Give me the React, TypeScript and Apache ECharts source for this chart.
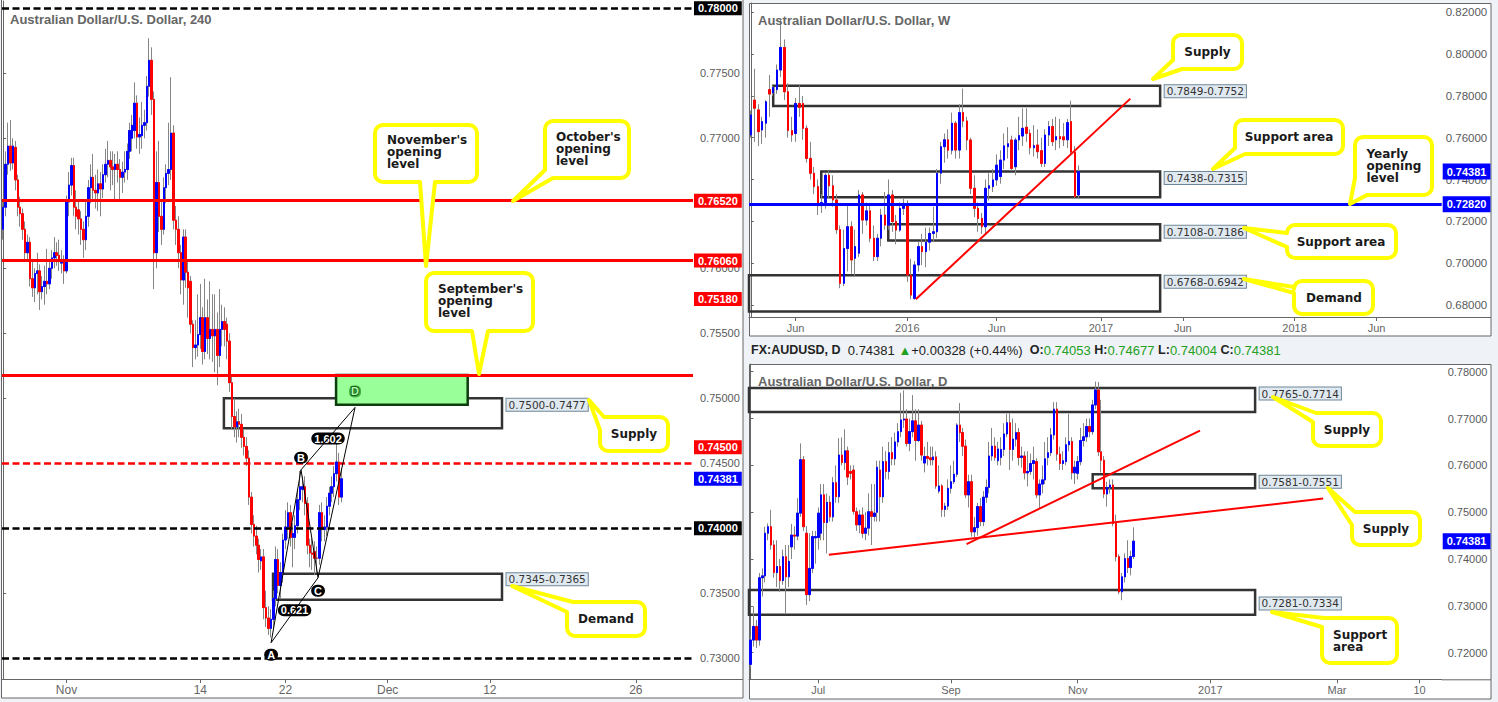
import React, { useEffect, useRef } from 'react';
import * as echarts from 'echarts';

// ================= DATA =================
// 240-minute candles: [open, close, low, high]
const h4Candles = [
[0.7630,0.7647,0.7622,0.7652],[0.7647,0.7680,0.7640,0.7690],[0.7680,0.7694,0.7672,0.7712],[0.7694,0.7681,0.7675,0.7714],
[0.7681,0.7694,0.7676,0.7700],[0.7693,0.7668,0.7660,0.7698],[0.7668,0.7647,0.7640,0.7672],[0.7647,0.7642,0.7632,0.7655],
[0.7642,0.7630,0.7622,0.7646],[0.7630,0.7612,0.7605,0.7636],[0.7612,0.7620,0.7606,0.7626],[0.7620,0.7592,0.7586,0.7624],
[0.7592,0.7585,0.7578,0.7606],[0.7585,0.7596,0.7574,0.7600],[0.7596,0.7598,0.7580,0.7612],[0.7598,0.7582,0.7568,0.7603],
[0.7582,0.7586,0.7576,0.7594],[0.7586,0.7590,0.7572,0.7602],[0.7590,0.7588,0.7580,0.7615],[0.7588,0.7600,0.7584,0.7605],
[0.7600,0.7608,0.7592,0.7614],[0.7608,0.7612,0.7600,0.7624],[0.7612,0.7610,0.7602,0.7620],[0.7610,0.7606,0.7598,0.7622],
[0.7604,0.7606,0.7596,0.7614],[0.7606,0.7598,0.7588,0.7610],[0.7598,0.7651,0.7596,0.7656],[0.7651,0.7664,0.7640,0.7674],
[0.7664,0.7679,0.7656,0.7685],[0.7679,0.7647,0.7640,0.7685],[0.7647,0.7640,0.7630,0.7660],[0.7645,0.7638,0.7626,0.7652],
[0.7638,0.7630,0.7618,0.7644],[0.7630,0.7622,0.7608,0.7636],[0.7622,0.7640,0.7614,0.7652],[0.7640,0.7662,0.7632,0.7668],
[0.7662,0.7670,0.7650,0.7680],[0.7670,0.7660,0.7652,0.7688],[0.7660,0.7658,0.7646,0.7672],[0.7658,0.7665,0.7644,0.7676],
[0.7665,0.7661,0.7640,0.7674],[0.7661,0.7672,0.7654,0.7680],[0.7672,0.7680,0.7666,0.7692],[0.7680,0.7683,0.7670,0.7698],
[0.7683,0.7678,0.7660,0.7690],[0.7678,0.7676,0.7664,0.7690],[0.7676,0.7680,0.7652,0.7688],[0.7680,0.7676,0.7666,0.7690],
[0.7676,0.7670,0.7652,0.7684],[0.7670,0.7674,0.7658,0.7682],[0.7674,0.7676,0.7666,0.7690],[0.7676,0.7690,0.7668,0.7696],
[0.7690,0.7706,0.7684,0.7712],[0.7700,0.7710,0.7690,0.7718],[0.7706,0.7727,0.7700,0.7743],[0.7727,0.7701,0.7692,0.7733],
[0.7701,0.7703,0.7688,0.7716],[0.7702,0.7710,0.7692,0.7728],[0.7710,0.7712,0.7700,0.7722],[0.7712,0.7740,0.7706,0.7748],
[0.7740,0.7760,0.7732,0.7777],[0.7760,0.7730,0.7718,0.7770],[0.7730,0.7612,0.7584,0.7736],[0.7612,0.7666,0.7600,0.7690],
[0.7666,0.7640,0.7628,0.7698],[0.7640,0.7630,0.7618,0.7652],[0.7630,0.7662,0.7626,0.7670],[0.7662,0.7673,0.7650,0.7680],
[0.7673,0.7676,0.7664,0.7712],[0.7676,0.7704,0.7668,0.7747],[0.7704,0.7637,0.7630,0.7710],[0.7637,0.7630,0.7618,0.7648],
[0.7630,0.7612,0.7600,0.7640],[0.7612,0.7591,0.7580,0.7618],[0.7591,0.7624,0.7572,0.7630],[0.7624,0.7597,0.7585,0.7630],
[0.7597,0.7585,0.7562,0.7606],[0.7590,0.7557,0.7550,0.7594],[0.7557,0.7539,0.7524,0.7560],[0.7539,0.7541,0.7530,0.7560],
[0.7541,0.7549,0.7532,0.7580],[0.7549,0.7562,0.7538,0.7588],[0.7562,0.7536,0.7526,0.7570],[0.7536,0.7562,0.7530,0.7592],
[0.7562,0.7546,0.7534,0.7576],[0.7546,0.7553,0.7530,0.7590],[0.7553,0.7548,0.7528,0.7580],[0.7548,0.7553,0.7520,0.7580],
[0.7553,0.7533,0.7510,0.7566],[0.7533,0.7553,0.7524,0.7584],[0.7553,0.7559,0.7540,0.7572],[0.7559,0.7553,0.7540,0.7570],
[0.7557,0.7544,0.7530,0.7562],[0.7544,0.7512,0.7505,0.7550],[0.7512,0.7486,0.7476,0.7518],[0.7486,0.7478,0.7470,0.7500],
[0.7478,0.7482,0.7466,0.7490],[0.7482,0.7480,0.7470,0.7492],[0.7480,0.7470,0.7462,0.7488],[0.7470,0.7463,0.7456,0.7476],
[0.7463,0.7454,0.7448,0.7470],[0.7454,0.7424,0.7418,0.7460],[0.7424,0.7403,0.7396,0.7428],[0.7403,0.7394,0.7386,0.7410],
[0.7394,0.7387,0.7380,0.7402],[0.7387,0.7376,0.7366,0.7392],[0.7375,0.7378,0.7368,0.7384],[0.7378,0.7339,0.7330,0.7384],
[0.7339,0.7331,0.7324,0.7352],[0.7331,0.7323,0.7318,0.7340],[0.7323,0.7330,0.7316,0.7338],[0.7330,0.7346,0.7322,0.7352],
[0.7346,0.7376,0.7340,0.7386],[0.7376,0.7356,0.7350,0.7384],[0.7356,0.7366,0.7346,0.7374],[0.7366,0.7391,0.7358,0.7396],
[0.7391,0.7401,0.7384,0.7414],[0.7401,0.7412,0.7392,0.7420],[0.7412,0.7393,0.7386,0.7418],[0.7393,0.7396,0.7370,0.7404],
[0.7393,0.7402,0.7384,0.7410],[0.7402,0.7422,0.7396,0.7430],[0.7422,0.7432,0.7414,0.7444],[0.7430,0.7432,0.7420,0.7440],
[0.7432,0.7419,0.7410,0.7440],[0.7419,0.7387,0.7380,0.7424],[0.7387,0.7381,0.7370,0.7392],[0.7381,0.7380,0.7368,0.7392],
[0.7382,0.7377,0.7364,0.7390],[0.7377,0.7377,0.7366,0.7386],[0.7377,0.7412,0.7372,0.7418],[0.7412,0.7399,0.7390,0.7420],
[0.7399,0.7401,0.7390,0.7410],[0.7401,0.7417,0.7394,0.7424],[0.7417,0.7427,0.7410,0.7432],[0.7427,0.7432,0.7420,0.7440],
[0.7432,0.7442,0.7424,0.7448],[0.7442,0.7451,0.7436,0.7465],[0.7451,0.7424,0.7418,0.7458],[0.7424,0.74381,0.7420,0.7446],
];
const h4CategoryCount = 284;
const h4TickIndex = [26, 81, 116, 158, 200, 260];
const h4TickLabels = ['Nov', '14', '22', 'Dec', '12', '26'];
const h4YTicks = [0.73, 0.735, 0.74, 0.745, 0.75, 0.755, 0.76, 0.765, 0.77, 0.775, 0.78];
const h4YRange = [0.728408, 0.780562];
const h4Levels = [0.78, 0.7652, 0.7606, 0.7518, 0.745, 0.74, 0.73];
const h4LevelKinds = ['blackDash', 'red', 'red', 'red', 'redDash', 'blackDash', 'blackDash'];
const h4LevelTags = ['0.78000', '0.76520', '0.76060', '0.75180', '0.74500', '0.74000', ''];
const lastPrice = 0.74381;
// zones: [fromIndex, toIndex, priceA, priceB]
const h4Zones = [[90.7, 205, 0.75, 0.7477], [110.9, 205, 0.7365, 0.7345]];
const h4ZoneLabels = ['0.7500-0.7477', '0.7345-0.7365'];
const h4PrzZone = [136.8, 190.9, 0.7518, 0.7495];
const abcdNames = ['A', 'B', 'C', 'D'];
const abcdPoints = [[110.1, 0.7312], [122.4, 0.7445], [129.4, 0.7362], [144.6, 0.7493]];
const abcdRatios = ['0.621', '1.602'];

// Weekly candles: [open, close, low, high]
const wCandles = [
[0.7613,0.7709,0.7600,0.7730],[0.7780,0.7741,0.7580,0.7930],[0.7733,0.7629,0.7560,0.7760],[0.7637,0.7677,0.7570,0.7700],
[0.7669,0.7772,0.7600,0.7780],[0.7830,0.7809,0.7700,0.7900],[0.7815,0.7840,0.7800,0.7850],[0.7830,0.7924,0.7810,0.7950],
[0.7924,0.8032,0.7890,0.8163],[0.8032,0.7820,0.7780,0.8070],[0.7820,0.7634,0.7600,0.7860],[0.7634,0.7613,0.7580,0.7700],
[0.7620,0.7764,0.7580,0.7790],[0.7764,0.7745,0.7700,0.7850],[0.7764,0.7645,0.7590,0.7800],[0.7645,0.7501,0.7480,0.7660],
[0.7501,0.7430,0.7400,0.7580],[0.7430,0.7366,0.7330,0.7460],[0.7366,0.7275,0.7230,0.7400],[0.7275,0.7290,0.7240,0.7330],
[0.7290,0.7420,0.7260,0.7430],[0.7420,0.7370,0.7310,0.7440],[0.7370,0.7302,0.7270,0.7420],[0.7302,0.7160,0.7140,0.7330],
[0.7160,0.6903,0.6880,0.7180],[0.6903,0.7070,0.6890,0.7160],[0.7070,0.7174,0.6960,0.7280],[0.7174,0.7015,0.6950,0.7200],
[0.7023,0.7079,0.6940,0.7160],[0.7047,0.7326,0.7030,0.7350],[0.7326,0.7206,0.7140,0.7340],[0.7206,0.7250,0.7180,0.7290],
[0.7250,0.7119,0.7100,0.7280],[0.7119,0.7031,0.7010,0.7180],[0.7031,0.7119,0.7010,0.7140],[0.7119,0.7230,0.7080,0.7260],
[0.7230,0.7182,0.7160,0.7340],[0.7182,0.7326,0.7160,0.7400],[0.7326,0.7199,0.7150,0.7350],[0.7199,0.7158,0.7090,0.7230],
[0.7158,0.7262,0.7150,0.7290],[0.7262,0.7280,0.7230,0.7310],[0.7280,0.6943,0.6910,0.7300],[0.6943,0.6847,0.6827,0.7020],
[0.6831,0.6991,0.6825,0.7010],[0.6991,0.7079,0.6960,0.7100],[0.7079,0.7055,0.6990,0.7140],[0.7055,0.7100,0.6980,0.7170],
[0.7100,0.7142,0.7060,0.7170],[0.7142,0.7150,0.7100,0.7270],[0.7150,0.7430,0.7120,0.7450],[0.7430,0.7557,0.7380,0.7580],
[0.7557,0.7590,0.7480,0.7620],[0.7590,0.7540,0.7500,0.7640],[0.7540,0.7669,0.7520,0.7720],[0.7669,0.7541,0.7500,0.7680],
[0.7541,0.7720,0.7500,0.7760],[0.7720,0.7680,0.7650,0.7835],[0.7680,0.7589,0.7540,0.7700],[0.7589,0.7358,0.7330,0.7600],
[0.7358,0.7262,0.7220,0.7420],[0.7262,0.7214,0.7150,0.7290],[0.7214,0.7174,0.7140,0.7240],[0.7174,0.7358,0.7140,0.7400],
[0.7358,0.7370,0.7300,0.7430],[0.7366,0.7398,0.7340,0.7450],[0.7398,0.7469,0.7370,0.7520],[0.7414,0.7493,0.7380,0.7540],
[0.7493,0.7561,0.7450,0.7620],[0.7557,0.7571,0.7500,0.7650],[0.7589,0.7453,0.7440,0.7610],[0.7461,0.7589,0.7420,0.7600],
[0.7589,0.7610,0.7540,0.7700],[0.7608,0.7645,0.7560,0.7740],[0.7650,0.7621,0.7580,0.7740],[0.7621,0.7552,0.7520,0.7640],
[0.7552,0.7562,0.7510,0.7660],[0.7565,0.7533,0.7500,0.7640],[0.7538,0.7477,0.7460,0.7600],[0.7477,0.7613,0.7460,0.7640],
[0.7613,0.7653,0.7560,0.7680],[0.7653,0.7581,0.7560,0.7690],[0.7590,0.7605,0.7540,0.7700],[0.7605,0.7595,0.7550,0.7690],
[0.7604,0.7590,0.7560,0.7670],[0.7590,0.7672,0.7550,0.7690],[0.7677,0.7531,0.7520,0.7777],[0.7531,0.7318,0.7310,0.7560],
[0.7326,0.74381,0.7310,0.7468],
];
const wCategoryCount = 186;
const wTickIndex = [12, 42, 66, 94, 116, 146, 168];
const wTickLabels = ['Jun', '2016', 'Jun', '2017', 'Jun', '2018', 'Jun'];
const wYTicks = [0.68, 0.70, 0.72, 0.74, 0.76, 0.78, 0.80, 0.82];
const wYRange = [0.674211, 0.82445];
const wYearlyOpen = 0.7282;
const wZones = [[6.0, 109.9, 0.7849, 0.7752], [18.9, 109.9, 0.7438, 0.7315], [36.9, 109.9, 0.7186, 0.7108], [-0.5, 109.9, 0.6942, 0.6768]];
const wZoneLabels = ['0.7849-0.7752', '0.7438-0.7315', '0.7108-0.7186', '0.6768-0.6942'];
const wTrend = [[44.3, 0.6827], [101.9, 0.7787]];

// Daily candles: [open, close, low, high]
const dCandles = [
[0.7175,0.7227,0.7170,0.7235],[0.7227,0.7256,0.7213,0.7298],[0.7256,0.7227,0.7210,0.7270],[0.7227,0.7360,0.7215,0.7370],
[0.7360,0.7364,0.7320,0.7380],[0.7364,0.7455,0.7350,0.7469],[0.7455,0.7469,0.7440,0.7476],[0.7469,0.7430,0.7420,0.7505],
[0.7430,0.7371,0.7360,0.7440],[0.7371,0.7384,0.7340,0.7440],[0.7384,0.7354,0.7330,0.7400],[0.7354,0.7405,0.7345,0.7420],
[0.7405,0.7362,0.7284,0.7430],[0.7362,0.7395,0.7340,0.7430],[0.7426,0.7451,0.7400,0.7475],[0.7451,0.7449,0.7420,0.7470],
[0.7449,0.7498,0.7440,0.7530],[0.7498,0.7612,0.7490,0.7647],[0.7612,0.7469,0.7460,0.7620],[0.7455,0.7324,0.7302,0.7470],
[0.7324,0.7380,0.7310,0.7455],[0.7380,0.7448,0.7370,0.7460],[0.7445,0.7448,0.7390,0.7460],[0.7446,0.7498,0.7420,0.7510],
[0.7455,0.7537,0.7440,0.7560],[0.7537,0.7478,0.7440,0.7560],[0.7478,0.7521,0.7412,0.7540],[0.7521,0.7490,0.7480,0.7535],
[0.7490,0.7563,0.7480,0.7575],[0.7563,0.7533,0.7520,0.7600],[0.7533,0.7622,0.7520,0.7658],[0.7622,0.7606,0.7600,0.7660],
[0.7606,0.7631,0.7590,0.7677],[0.7631,0.7575,0.7558,0.7640],[0.7587,0.7583,0.7570,0.7600],[0.7590,0.7502,0.7495,0.7600],
[0.7501,0.7473,0.7460,0.7510],[0.7473,0.7494,0.7455,0.7505],[0.7494,0.7455,0.7445,0.7510],[0.7455,0.7466,0.7440,0.7500],
[0.7466,0.7501,0.7450,0.7540],[0.7501,0.7491,0.7430,0.7560],[0.7491,0.7498,0.7480,0.7560],[0.7500,0.7596,0.7480,0.7610],
[0.7590,0.7533,0.7480,0.7610],[0.7533,0.7608,0.7520,0.7640],[0.7608,0.7587,0.7570,0.7630],[0.7587,0.7627,0.7570,0.7650],
[0.7627,0.7614,0.7600,0.7660],[0.7614,0.7650,0.7600,0.7670],[0.7650,0.7672,0.7640,0.7690],[0.7672,0.7697,0.7660,0.7755],
[0.7697,0.7699,0.7680,0.7760],[0.7699,0.7647,0.7640,0.7720],[0.7647,0.7672,0.7630,0.7700],[0.7672,0.7695,0.7660,0.7750],
[0.7695,0.7653,0.7610,0.7720],[0.7653,0.7686,0.7650,0.7720],[0.7686,0.7622,0.7610,0.7695],[0.7605,0.7619,0.7585,0.7640],
[0.7619,0.7615,0.7600,0.7650],[0.7616,0.7612,0.7600,0.7640],[0.7612,0.7618,0.7600,0.7640],[0.7618,0.7556,0.7550,0.7630],
[0.7545,0.7556,0.7540,0.7600],[0.7556,0.7506,0.7490,0.7560],[0.7506,0.7513,0.7490,0.7520],[0.7513,0.7551,0.7505,0.7570],
[0.7551,0.7565,0.7540,0.7600],[0.7565,0.7581,0.7560,0.7610],[0.7581,0.7686,0.7575,0.7690],[0.7686,0.7670,0.7650,0.7733],
[0.7670,0.7641,0.7620,0.7680],[0.7641,0.7537,0.7530,0.7655],[0.7537,0.7565,0.7510,0.7580],[0.7565,0.7458,0.7448,0.7580],
[0.7458,0.7467,0.7447,0.7490],[0.7467,0.7512,0.7450,0.7520],[0.7512,0.7480,0.7470,0.7530],[0.7480,0.7532,0.7470,0.7545],
[0.7532,0.7553,0.7520,0.7570],[0.7553,0.7620,0.7540,0.7650],[0.7620,0.7641,0.7610,0.7680],[0.7641,0.7617,0.7610,0.7660],
[0.7610,0.7635,0.7600,0.7650],[0.7617,0.7634,0.7600,0.7660],[0.7634,0.7667,0.7620,0.7690],[0.7667,0.7691,0.7660,0.7710],
[0.7691,0.7634,0.7590,0.7711],[0.7634,0.7656,0.7610,0.7700],[0.7656,0.7670,0.7640,0.7690],[0.7670,0.7617,0.7600,0.7680],
[0.7617,0.7620,0.7595,0.7640],[0.7620,0.7584,0.7570,0.7630],[0.7584,0.7587,0.7555,0.7630],[0.7587,0.7604,0.7580,0.7625],
[0.7604,0.7610,0.7570,0.7640],[0.7608,0.7537,0.7530,0.7615],[0.7537,0.7560,0.7508,0.7570],[0.7560,0.7569,0.7540,0.7600],
[0.7569,0.7614,0.7560,0.7650],[0.7617,0.7627,0.7600,0.7660],[0.7627,0.7665,0.7620,0.7680],[0.7665,0.7720,0.7655,0.7735],
[0.7720,0.7624,0.7610,0.7735],[0.7624,0.7604,0.7590,0.7640],[0.7604,0.7610,0.7590,0.7630],[0.7608,0.7644,0.7600,0.7660],
[0.7644,0.7651,0.7630,0.7710],[0.7651,0.7584,0.7570,0.7660],[0.7584,0.7596,0.7560,0.7610],[0.7583,0.7608,0.7570,0.7620],
[0.7608,0.7653,0.7600,0.7680],[0.7653,0.7661,0.7640,0.7690],[0.7661,0.7683,0.7650,0.7700],[0.7683,0.7672,0.7660,0.7700],
[0.7672,0.7729,0.7665,0.7740],[0.7729,0.7761,0.7720,0.7779],[0.7761,0.7629,0.7620,0.7778],[0.7629,0.7611,0.7585,0.7740],
[0.7611,0.7539,0.7530,0.7620],[0.7539,0.7553,0.7512,0.7565],[0.7553,0.7558,0.7540,0.7570],[0.7558,0.7476,0.7470,0.7570],
[0.7476,0.7405,0.7395,0.7495],[0.7405,0.7330,0.7325,0.7410],[0.7330,0.7362,0.7312,0.7370],[0.7362,0.7401,0.7350,0.7412],
[0.7401,0.7382,0.7370,0.7440],[0.7382,0.74053,0.7365,0.7418],[0.74053,0.74381,0.74004,0.74677],
];
const dCategoryCount = 235;
const dTickIndex = [23, 68, 111, 156, 199, 227];
const dTickLabels = ['Jul', 'Sep', 'Nov', '2017', 'Mar', '10'];
const dYTicks = [0.72, 0.73, 0.74, 0.75, 0.76, 0.77, 0.78];
const dYRange = [0.714315, 0.781644];
const dZones = [[-0.5, 171.2, 0.7765, 0.7714], [116.1, 171.2, 0.7581, 0.7551], [-0.5, 171.2, 0.7334, 0.7281]];
const dZoneLabels = ['0.7765-0.7714', '0.7581-0.7551', '0.7281-0.7334'];
const dTrendA = [[26.6, 0.7409], [194.3, 0.7529]];
const dTrendB = [[73.3, 0.7432], [152.5, 0.7674]];
const dSymbol = 'FX:AUDUSD, D';

// ================= STYLE / LAYOUT =================
const FONT = '"Liberation Sans", Arial, sans-serif';
const VFONT = '"DejaVu Sans", Verdana, sans-serif';
const BLUE = '#0000ff';
const RED = '#ff0000';

const CalloutShape = (echarts as any).graphic.extendShape({
  type: 'callout',
  shape: { x: 0, y: 0, w: 10, h: 10, r: 8, edge: 'bottom', d1: 0, d2: 0, tx: 0, ty: 0 },
  buildPath(ctx: any, s: any) {
    const { x, y, w, h, r, edge, d1, d2, tx, ty } = s;
    const R = x + w, B = y + h;
    if (edge === 'tl') { ctx.moveTo(tx, ty); ctx.lineTo(x + d1, y); } else { ctx.moveTo(x + r, y); }
    if (edge === 'top') { ctx.lineTo(x + d1, y); ctx.lineTo(tx, ty); ctx.lineTo(x + d2, y); }
    ctx.lineTo(R - r, y);
    ctx.arc(R - r, y + r, r, -Math.PI / 2, 0, false);
    ctx.lineTo(R, B - r);
    ctx.arc(R - r, B - r, r, 0, Math.PI / 2, false);
    if (edge === 'bottom') { ctx.lineTo(x + d2, B); ctx.lineTo(tx, ty); ctx.lineTo(x + d1, B); }
    if (edge === 'bl') { ctx.lineTo(x + d1, B); ctx.lineTo(tx, ty); ctx.lineTo(x, B - d2); }
    else { ctx.lineTo(x + r, B); ctx.arc(x + r, B - r, r, Math.PI / 2, Math.PI, false); }
    if (edge === 'left') { ctx.lineTo(x, y + d2); ctx.lineTo(tx, ty); ctx.lineTo(x, y + d1); }
    if (edge === 'tl') { ctx.lineTo(x, y + d2); ctx.closePath(); return; }
    ctx.lineTo(x, y + r);
    ctx.arc(x + r, y + r, r, Math.PI, Math.PI * 1.5, false);
    ctx.closePath();
  },
});
(echarts as any).graphic.registerShape('callout', CalloutShape);

const callouts = [
  { x: 375, y: 125, w: 102, h: 57, edge: 'bottom', d1: 45, d2: 60, tx: 426, ty: 266, text: "November's\nopening\nlevel", lx: 387, ly: 134, c: false },
  { x: 545, y: 121, w: 84, h: 57, edge: 'bl', d1: 8, d2: 8, tx: 513, ty: 201, text: "October's\nopening\nlevel", lx: 556, ly: 131, c: false },
  { x: 426, y: 273, w: 107, h: 58, edge: 'bottom', d1: 46, d2: 62, tx: 479, ty: 374, text: "September's\nopening\nlevel", lx: 438, ly: 283, c: false },
  { x: 600, y: 417, w: 68, h: 34, edge: 'tl', d1: 4, d2: 13, tx: 589, ty: 400, text: 'Supply', lx: 634, ly: 434, c: true },
  { x: 567, y: 602, w: 78, h: 34, edge: 'tl', d1: 6, d2: 10, tx: 512, ty: 586, text: 'Demand', lx: 606, ly: 619, c: true },
  { x: 1173, y: 35, w: 69, h: 34, edge: 'bl', d1: 9, d2: 9, tx: 1153, ty: 79, text: 'Supply', lx: 1207.5, ly: 52, c: true },
  { x: 1235, y: 120, w: 108, h: 34, edge: 'bl', d1: 10, d2: 6, tx: 1213, ty: 169, text: 'Support area', lx: 1289, ly: 137, c: true },
  { x: 1355, y: 137, w: 77, h: 58, edge: 'bl', d1: 12, d2: 17, tx: 1350, ty: 204, text: 'Yearly\nopening\nlevel', lx: 1366.5, ly: 148, c: false },
  { x: 1287, y: 225, w: 109, h: 33, edge: 'left', d1: 8, d2: 22, tx: 1244, ty: 228, text: 'Support area', lx: 1341, ly: 241.5, c: true },
  { x: 1294, y: 281, w: 79, h: 33, edge: 'left', d1: 6, d2: 12, tx: 1244, ty: 279, text: 'Demand', lx: 1334, ly: 297.5, c: true },
  { x: 1313, y: 413, w: 68, h: 33, edge: 'tl', d1: 3, d2: 9, tx: 1273, ty: 397, text: 'Supply', lx: 1347, ly: 429.5, c: true },
  { x: 1352, y: 512, w: 68, h: 33, edge: 'tl', d1: 3, d2: 13, tx: 1328, ty: 488, text: 'Supply', lx: 1386, ly: 528.5, c: true },
  { x: 1322, y: 618, w: 75, h: 45, edge: 'tl', d1: 2, d2: 9, tx: 1272, ty: 612, text: 'Support\narea', lx: 1333, ly: 629, c: false },
];

function catData(n: number, idx: number[], labels: string[]) {
  const a: string[] = new Array(n).fill('');
  idx.forEach((k, j) => { a[k] = labels[j]; });
  return a;
}

function xCat(gridIndex: number, n: number, idx: number[], labels: string[], fontSize: number) {
  const data = catData(n, idx, labels);
  const show = (i: number) => data[i] !== '';
  return {
    type: 'category', gridIndex, data, boundaryGap: true,
    axisLine: { show: true, lineStyle: { color: '#666', width: 1 } },
    axisTick: { show: true, interval: (i: number) => show(i), alignWithLabel: true, length: 4, lineStyle: { color: '#666' } },
    axisLabel: { interval: (i: number) => show(i), color: '#666', fontSize, fontFamily: FONT, margin: 5 },
    splitLine: { show: false },
  };
}
function xVal(gridIndex: number, n: number) {
  return { type: 'value', gridIndex, min: -0.5, max: n - 0.5, show: false };
}
function yVal(gridIndex: number, range: number[], ticks: number[], margin: number, fontSize: number) {
  return {
    type: 'value', gridIndex, position: 'right', min: range[0], max: range[1], scale: true,
    splitLine: { show: false },
    axisLine: { show: true, lineStyle: { color: '#666' } },
    axisTick: { show: true, length: 3, customValues: ticks, lineStyle: { color: '#666' } },
    axisLabel: { customValues: ticks, formatter: (v: number) => Number(v).toFixed(5), color: '#5a5a5a', fontSize, fontFamily: FONT, margin },
  };
}

function candles(p: number, data: number[][], barWidth: number) {
  return [
    {
      type: 'candlestick', xAxisIndex: 2 * p, yAxisIndex: p, z: 2, silent: true, barWidth,
      data: data.map((c) => [c[0], c[1], c[2], c[3]]),
      itemStyle: { color: 'rgba(0,0,0,0)', color0: 'rgba(0,0,0,0)', borderColor: '#858585', borderColor0: '#858585', borderColorDoji: '#858585', borderWidth: 1 },
    },
    {
      type: 'candlestick', xAxisIndex: 2 * p, yAxisIndex: p, z: 3, silent: true, barWidth,
      data: data.map((c) => [c[0], c[1], Math.min(c[0], c[1]), Math.max(c[0], c[1])]),
      itemStyle: { color: BLUE, color0: RED, borderColor: BLUE, borderColor0: RED, borderColorDoji: RED, borderWidth: 1 },
    },
  ];
}

function host(p: number, z: number, extra: any) {
  return {
    type: 'line', xAxisIndex: 2 * p + 1, yAxisIndex: p, z, silent: true,
    data: [[-1000, 0.5]], symbol: 'none', showSymbol: false, lineStyle: { width: 0 },
    ...extra,
  };
}

const zoneStyle = { color: 'rgba(0,0,0,0)', borderColor: '#333', borderWidth: 2.5 };
const zoneLabelStyle = {
  color: '#333', fontSize: 10.5, fontFamily: VFONT, backgroundColor: '#e1e9f0',
  borderColor: '#6f8799', borderWidth: 1, padding: [1, 2, 0, 2], lineHeight: 11,
};

function zoneAreas(zones: number[][], style: any) {
  return zones.map((z) => [
    { coord: [z[0], Math.max(z[2], z[3])], itemStyle: style },
    { coord: [z[1], Math.min(z[2], z[3])] },
  ]);
}
function zoneLabels(zones: number[][], labels: string[], dys: number[]) {
  return zones.map((z, j) => ({
    coord: [z[1], Math.max(z[2], z[3])],
    symbol: 'rect', symbolSize: 1, itemStyle: { color: 'rgba(0,0,0,0)' },
    label: { show: true, position: 'right', distance: 4, offset: [0, 6.5 + dys[j]], formatter: labels[j], ...zoneLabelStyle },
  }));
}

function tag(text: string, bg: string, shift: number, pad: number[]) {
  return {
    show: text !== '', position: 'end', distance: 1, formatter: text,
    backgroundColor: bg, color: '#fff', fontWeight: 'bold', fontSize: 11, fontFamily: FONT,
    padding: pad, offset: [0, shift],
  };
}

const levelStyles: any = {
  blackDash: { color: '#000', width: 2.6, type: [7, 3.5] },
  red: { color: RED, width: 2.8, type: 'solid' },
  redDash: { color: RED, width: 2.6, type: [7, 3.5] },
};
const tagShift: any = { '0.75180': -76, '0.74500': -16 };

function buildOption() {
  const mid = (a: number[], b: number[]) => [(a[0] + b[0]) / 2, (a[1] + b[1]) / 2];
  const [A, B, C, D] = abcdPoints;
  const badge = { backgroundColor: '#000', color: '#fff', fontWeight: 'bold', fontSize: 11, fontFamily: FONT, borderRadius: 6, padding: [1, 3, 0, 3] };
  const abcdOffsets = [[0, 12], [0, -12], [0, 13], [0, -16]];

  const h4LevelItems = h4Levels.map((v, j) => ({
    yAxis: v,
    lineStyle: levelStyles[h4LevelKinds[j]],
    label: tag(h4LevelTags[j], h4LevelKinds[j].startsWith('red') ? RED : '#000', tagShift[h4LevelTags[j]] || 0, [2, 4, 1, 4]),
  }));
  h4LevelItems.push({ yAxis: lastPrice, lineStyle: { width: 0 } as any, label: tag(lastPrice.toFixed(5), BLUE, 0, [2, 4, 1, 4]) });

  const dLast = dCandles[dCandles.length - 1];
  const dPrev = dCandles[dCandles.length - 2][1];
  const chg = dLast[1] - dPrev;
  const pct = (chg / dPrev) * 100;
  const f5 = (v: number) => v.toFixed(5);

  const series: any[] = [
    // ===== 240 panel =====
    host(0, 1, {
      markArea: {
        silent: true, label: { show: false },
        data: [
          ...zoneAreas(h4Zones, zoneStyle),
          ...zoneAreas([h4PrzZone], { color: '#99ff99', borderColor: '#0d3d0d', borderWidth: 2.5 }),
        ],
      },
      markPoint: { silent: true, data: zoneLabels(h4Zones, h4ZoneLabels, [0, -1]) },
    }),
    ...candles(0, h4Candles, 2),
    host(0, 4, { markLine: { silent: true, precision: 6, symbol: ['none', 'none'], data: h4LevelItems } }),
    {
      type: 'line', xAxisIndex: 1, yAxisIndex: 0, z: 6, silent: true, data: abcdPoints, symbol: 'none',
      lineStyle: { color: '#000', width: 1 },
      markPoint: {
        silent: true,
        data: abcdPoints.map((pt, j) => ({
          coord: pt, symbol: 'rect', symbolSize: 1, itemStyle: { color: 'rgba(0,0,0,0)' },
          label: j === 3
            ? { show: true, position: 'inside', offset: abcdOffsets[j], formatter: abcdNames[j], color: '#aaffaa', fontWeight: 'bold', fontSize: 11, fontFamily: FONT, textBorderColor: '#1b5e1b', textBorderWidth: 2, backgroundColor: '#3fae3f', borderRadius: 5, padding: [1, 2, 0, 2] }
            : { show: true, position: 'inside', offset: abcdOffsets[j], formatter: abcdNames[j], ...badge },
        })),
      },
    },
    {
      type: 'line', xAxisIndex: 1, yAxisIndex: 0, z: 6, silent: true, data: [A, C], symbol: 'none',
      lineStyle: { color: '#000', width: 1 },
      markPoint: { silent: true, data: [{ coord: mid(A, C), symbol: 'rect', symbolSize: 1, itemStyle: { color: 'rgba(0,0,0,0)' }, label: { show: true, position: 'inside', formatter: abcdRatios[0], ...badge } }] },
    },
    {
      type: 'line', xAxisIndex: 1, yAxisIndex: 0, z: 6, silent: true, data: [B, D], symbol: 'none',
      lineStyle: { color: '#000', width: 1 },
      markPoint: { silent: true, data: [{ coord: mid(B, D), symbol: 'rect', symbolSize: 1, itemStyle: { color: 'rgba(0,0,0,0)' }, label: { show: true, position: 'inside', formatter: abcdRatios[1], ...badge } }] },
    },

    // ===== Weekly panel =====
    host(1, 1, {
      markArea: { silent: true, label: { show: false }, data: zoneAreas(wZones, zoneStyle) },
      markPoint: { silent: true, data: zoneLabels(wZones, wZoneLabels, [-1, 0, 1, 0]) },
    }),
    ...candles(1, wCandles, 2),
    host(1, 4, {
      markLine: {
        silent: true, precision: 6, symbol: ['none', 'none'],
        data: [
          { yAxis: wYearlyOpen, lineStyle: { color: BLUE, width: 3, type: 'solid' }, label: tag(wYearlyOpen.toFixed(5), BLUE, 0, [3, 4, 2, 4]) },
          { yAxis: lastPrice, lineStyle: { width: 0 }, label: tag(lastPrice.toFixed(5), BLUE, 0, [3, 4, 2, 4]) },
        ],
      },
    }),
    { type: 'line', xAxisIndex: 3, yAxisIndex: 1, z: 5, silent: true, data: wTrend, symbol: 'none', lineStyle: { color: RED, width: 2 } },

    // ===== Daily panel =====
    host(2, 1, {
      markArea: { silent: true, label: { show: false }, data: zoneAreas(dZones, zoneStyle) },
      markPoint: { silent: true, data: zoneLabels(dZones, dZoneLabels, [-1, 1, 7]) },
    }),
    ...candles(2, dCandles, 2),
    host(2, 4, {
      markLine: {
        silent: true, precision: 6, symbol: ['none', 'none'],
        data: [{ yAxis: lastPrice, lineStyle: { width: 0 }, label: tag(lastPrice.toFixed(5), BLUE, 0, [3, 4, 2, 4]) }],
      },
    }),
    { type: 'line', xAxisIndex: 5, yAxisIndex: 2, z: 5, silent: true, data: dTrendA, symbol: 'none', lineStyle: { color: RED, width: 2 } },
    { type: 'line', xAxisIndex: 5, yAxisIndex: 2, z: 5, silent: true, data: dTrendB, symbol: 'none', lineStyle: { color: RED, width: 2 } },
  ];

  const panelStyle = { fill: '#fff', stroke: '#666', lineWidth: 1 };
  const elements: any[] = [
    { type: 'rect', z: -10, shape: { x: 1.5, y: -2, width: 741.5, height: 700 }, style: panelStyle },
    { type: 'rect', z: -10, shape: { x: 749.5, y: 3.5, width: 741.5, height: 332.5 }, style: panelStyle },
    { type: 'rect', z: -10, shape: { x: 749.5, y: 364.5, width: 741.5, height: 334.5 }, style: panelStyle },
    { type: 'line', z: 5, shape: { x1: 693, y1: 679.5, x2: 743, y2: 679.5 }, style: { stroke: '#666', lineWidth: 1 } },
    { type: 'line', z: 5, shape: { x1: 1441.7, y1: 317.5, x2: 1491, y2: 317.5 }, style: { stroke: '#666', lineWidth: 1 } },
    { type: 'line', z: 5, shape: { x1: 1441.7, y1: 679.8, x2: 1491, y2: 679.8 }, style: { stroke: '#666', lineWidth: 1 } },
    { type: 'text', z: 20, x: 10, y: 19, style: { text: 'Australian Dollar/U.S. Dollar, 240', font: `bold 13px ${FONT}`, fill: '#666', verticalAlign: 'middle', textVerticalAlign: 'middle' } },
    { type: 'text', z: 20, x: 758, y: 20, style: { text: 'Australian Dollar/U.S. Dollar, W', font: `bold 13px ${FONT}`, fill: '#666', verticalAlign: 'middle', textVerticalAlign: 'middle' } },
    { type: 'text', z: 0, x: 758, y: 381.5, style: { text: 'Australian Dollar/U.S. Dollar, D', font: `bold 13px ${FONT}`, fill: '#666', verticalAlign: 'middle', textVerticalAlign: 'middle' } },
    {
      type: 'text', z: 20, x: 751, y: 350,
      style: {
        text: `{b|${dSymbol}}  {n|${f5(dLast[1])}} {g|▲}{n|${chg >= 0 ? '+' : ''}${f5(chg)} (${pct >= 0 ? '+' : ''}${pct.toFixed(2)}%)}  {b|O:}{g|${f5(dLast[0])}} {b|H:}{g|${f5(dLast[3])}} {b|L:}{g|${f5(dLast[2])}} {b|C:}{g|${f5(dLast[1])}}`,
        verticalAlign: 'middle', textVerticalAlign: 'middle',
        font: `13px ${FONT}`, fill: '#222',
        rich: {
          b: { fontWeight: 'bold', fontSize: 12.5, fontFamily: FONT, fill: '#222' },
          n: { fontSize: 13, fontFamily: FONT, fill: '#222' },
          g: { fontSize: 13, fontFamily: FONT, fill: '#22a022' },
        },
      },
    },
  ];
  callouts.forEach((c) => {
    elements.push({
      type: 'callout', z: 100,
      shape: { x: c.x, y: c.y, w: c.w, h: c.h, r: 8, edge: c.edge, d1: c.d1, d2: c.d2, tx: c.tx, ty: c.ty },
      style: { fill: '#fff', stroke: '#ffff00', lineWidth: 4, lineJoin: 'round' },
    });
    elements.push({
      type: 'text', z: 101, x: c.lx, y: c.ly,
      style: {
        text: c.text, font: `bold 12px ${VFONT}`, fill: '#1a1a1a', lineHeight: 12,
        align: c.c ? 'center' : 'left', textAlign: c.c ? 'center' : 'left',
        verticalAlign: c.c ? 'middle' : 'top', textVerticalAlign: c.c ? 'middle' : 'top',
      },
    });
  });

  return {
    animation: false,
    backgroundColor: '#eff2f6',
    grid: [
      { left: 2, top: 1, width: 691, height: 678 },
      { left: 749, top: 3, width: 692.7, height: 314 },
      { left: 749, top: 364, width: 692.7, height: 315.3 },
    ],
    xAxis: [
      xCat(0, h4CategoryCount, h4TickIndex, h4TickLabels, 12), xVal(0, h4CategoryCount),
      xCat(1, wCategoryCount, wTickIndex, wTickLabels, 11), xVal(1, wCategoryCount),
      xCat(2, dCategoryCount, dTickIndex, dTickLabels, 11), xVal(2, dCategoryCount),
    ],
    yAxis: [
      yVal(0, h4YRange, h4YTicks, 7, 11),
      yVal(1, wYRange, wYTicks, 4, 11.5),
      yVal(2, dYRange, dYTicks, 6, 11),
    ],
    series,
    graphic: { elements },
  };
}

export default function App() {
  const ref = useRef<HTMLDivElement>(null);
  useEffect(() => {
    const chart = echarts.init(ref.current as HTMLDivElement, null, { renderer: 'svg', width: 1498, height: 702 });
    chart.setOption(buildOption() as any);
    return () => chart.dispose();
  }, []);
  return <div ref={ref} style={{ position: 'absolute', left: 0, top: 0, width: 1498, height: 702 }} />;
}
